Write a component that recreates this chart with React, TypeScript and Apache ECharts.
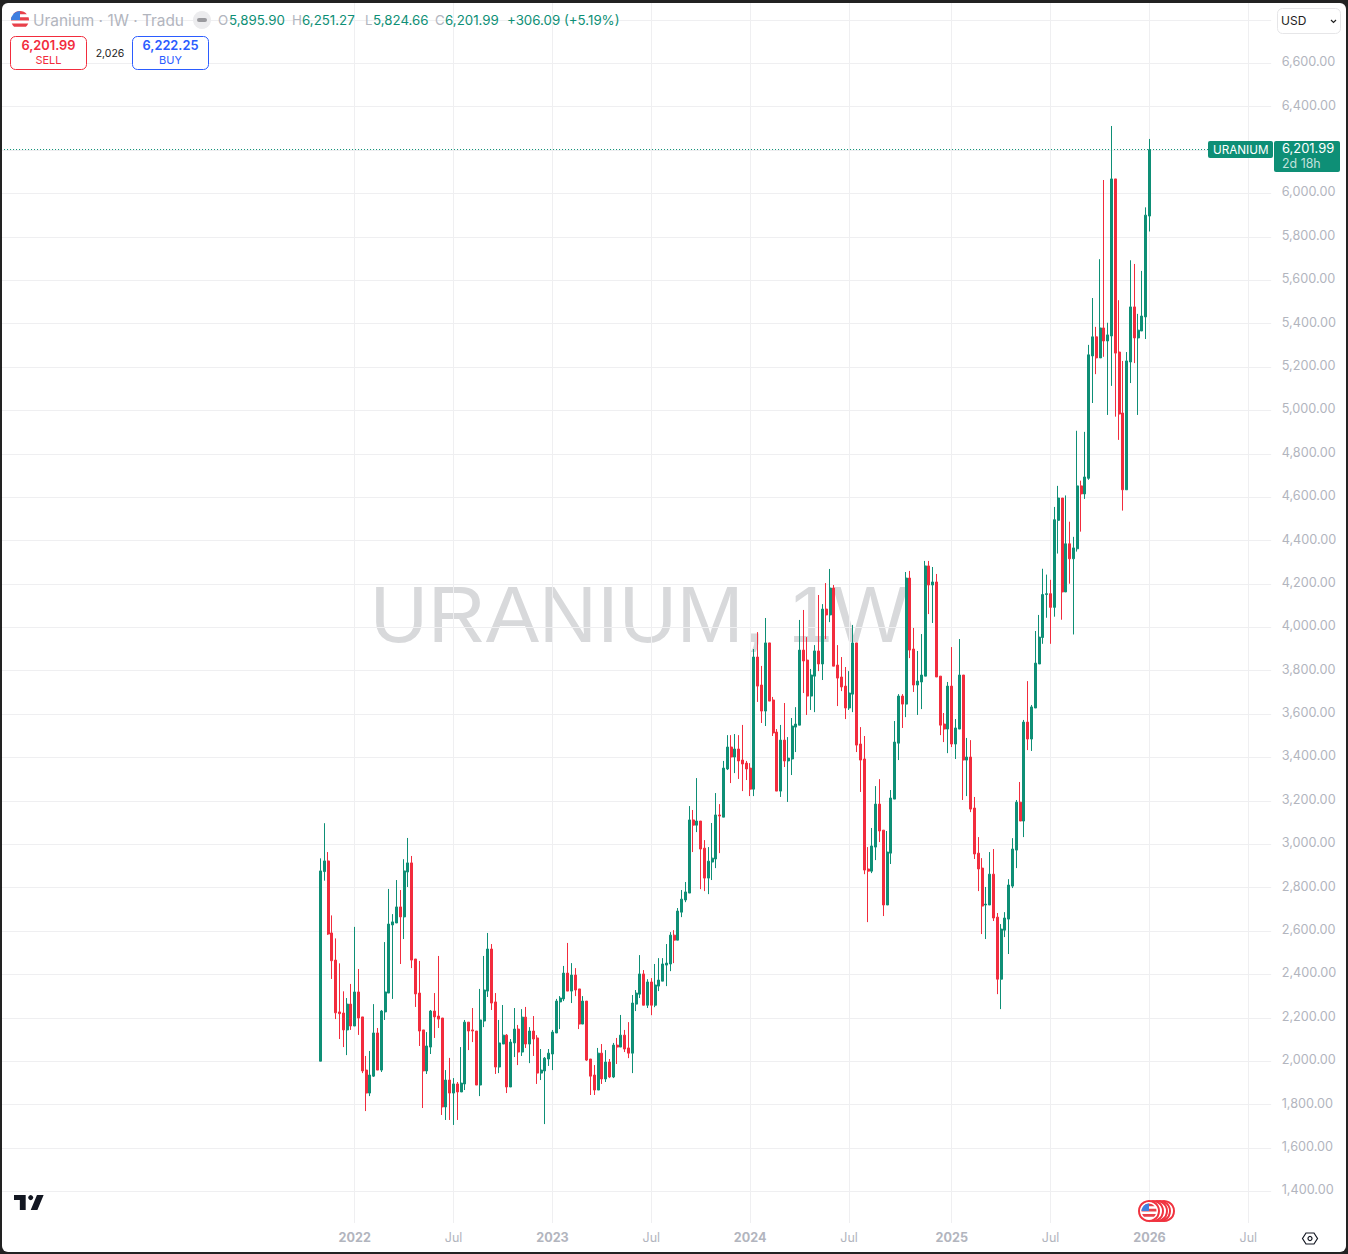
import React, { useEffect, useRef } from "react";
import * as echarts from "echarts";

const opens = [
2000,2874,2923,2591,2466,2227,2222,2144,2263,2162,
2319,2204,1959,1853,1931,2130,1959,2227,2314,2628,
2637,2711,2665,2872,2914,2471,2314,2144,1955,2065,
2231,2208,2199,1789,1913,1853,1895,1858,1895,2180,
2144,2139,1890,2185,2323,2517,2273,1973,2079,2120,
1881,2084,2148,2042,2203,2079,2139,2107,1945,1955,
2010,2033,2130,2273,2287,2406,2323,2397,2333,2171,
2277,2010,1936,1867,2037,1918,1996,1927,2074,2065,
2120,2061,2037,2263,2309,2402,2258,2365,2258,2346,
2369,2443,2448,2581,2558,2687,2743,2775,3112,3088,
3107,2982,2844,2918,2932,3135,3125,3347,3448,3402,
3439,3388,3374,3351,3254,3863,3734,3614,3928,3665,
3517,3245,3480,3384,3393,3540,3549,3895,3849,3683,
3775,3891,3831,4084,4057,4181,3826,3771,3729,3628,
3692,3928,3462,3393,2886,2876,2987,3185,3065,2720,
2959,3208,3466,3683,3646,4227,3900,3734,3748,3775,
4283,4195,4209,3775,3554,3531,3729,3462,3531,3780,
3388,3402,3167,2959,2890,2720,2720,2862,2664,2378,
2604,2655,2807,2973,3194,3107,3563,3485,3628,3831,
3953,4151,4155,4092,4493,4596,4163,4385,4316,4362,
4652,4615,4687,5251,5339,5242,5380,5320,5343,6067,
5269,4988,4634,5223,5477,5334,5366,5431,5895.9];

const closes = [
2877,2923,2586,2463,2223,2219,2144,2263,2162,2319,
2199,1955,1853,1936,2130,1959,2231,2319,2632,2642,
2711,2665,2877,2914,2466,2310,2139,1955,2070,2231,
2204,2194,1789,1913,1853,1895,1858,1899,2180,2139,
2139,1890,2190,2328,2517,2268,1973,2084,2120,1881,
2088,2148,2042,2203,2079,2139,2102,1945,1959,2014,
2037,2134,2277,2291,2406,2323,2397,2328,2171,2277,
2005,1931,1867,2037,1918,1996,1927,2074,2065,2120,
2056,2037,2268,2314,2402,2258,2365,2258,2351,2374,
2448,2452,2581,2558,2692,2747,2780,3112,3088,3107,
2978,2844,2922,2936,3135,3130,3351,3448,3402,3439,
3384,3370,3347,3254,3863,3729,3614,3928,3660,3513,
3245,3480,3384,3397,3545,3554,3895,3845,3683,3780,
3891,3831,4084,4057,4181,3821,3766,3725,3628,3697,
3928,3457,3388,2881,2876,2992,3185,3061,2720,2964,
3213,3471,3683,3646,4227,3895,3734,3752,3780,4283,
4195,4209,3771,3549,3531,3729,3462,3536,3780,3388,
3402,3162,2955,2886,2715,2724,2862,2660,2378,2609,
2660,2812,2978,3194,3107,3563,3485,3633,3835,3955,
4151,4155,4092,4496,4596,4163,4385,4316,4366,4652,
4615,4693,5256,5339,5242,5380,5320,5348,6067,5264,
4983,4634,5228,5477,5334,5370,5435,5900,6201.99];

const highs = [
2935,3097,2964,2672,2566,2451,2322,2291,2356,2619,
2425,2204,2024,2047,2263,2153,2236,2549,2794,2678,
2835,2789,2931,3029,2946,2471,2462,2144,2134,2236,
2314,2485,2199,1959,2015,1922,1904,2065,2190,2180,
2245,2139,2333,2485,2591,2540,2314,2190,2259,2125,
2102,2245,2167,2240,2250,2157,2208,2120,2056,2019,
2056,2144,2287,2300,2439,2545,2452,2429,2333,2300,
2277,2010,1982,2061,2079,2051,2010,2084,2107,2213,
2144,2180,2305,2328,2489,2420,2378,2383,2448,2475,
2475,2540,2595,2604,2706,2789,2826,3176,3158,3305,
3107,3019,2987,3098,3236,3185,3384,3503,3503,3508,
3503,3550,3384,3374,3900,3978,3822,4043,3928,3679,
3531,3550,3651,3494,3582,3632,4034,4080,3955,3808,
3918,4149,4107,4204,4269,4195,3918,3863,3817,3798,
4011,3928,3540,3499,2987,3075,3268,3300,3065,3061,
3250,3568,3692,3692,4255,4260,3997,3891,3969,4306,
4306,4278,4246,3775,3605,3748,3909,3577,3946,3780,
3490,3480,3218,3033,2936,2803,2964,2978,2683,2632,
2687,2839,3028,3204,3287,3573,3752,3642,3983,4057,
4270,4243,4219,4555,4652,4596,4608,4487,4417,4906,
4676,4901,5302,5518,5385,5697,6062,5404,6311,6067,
5508,5228,5269,5692,5675,5445,5643,5936,6251.27];

const lows = [
2000,2832,2582,2379,2194,2102,2065,2028,2144,2162,
2121,1945,1770,1839,1927,1959,1950,2190,2314,2287,
2637,2448,2563,2803,2429,2250,2070,1784,1941,2033,
2107,2153,1752,1729,1729,1706,1729,1858,1867,2051,
2088,1890,1839,2157,2296,2236,1941,1945,2079,1853,
1881,2019,1982,2024,2061,1991,2024,1895,1913,1710,
1978,1959,2130,2148,2277,2323,2268,2300,2148,2171,
2001,1844,1844,1867,1895,1904,1922,1922,1987,2065,
2042,2014,1945,2231,2291,2258,2245,2212,2249,2323,
2369,2346,2415,2452,2558,2664,2733,2775,2964,3056,
2793,2784,2770,2835,2890,2959,3125,3342,3282,3328,
3301,3245,3296,3222,3222,3656,3559,3545,3660,3499,
3245,3218,3356,3195,3319,3425,3549,3697,3596,3619,
3609,3798,3757,3946,4024,3821,3637,3706,3577,3619,
3609,3425,3241,2862,2641,2867,2927,3010,2669,2720,
2909,3208,3388,3536,3586,3858,3702,3596,3623,3775,
4061,4020,3771,3503,3471,3420,3448,3393,3531,3204,
3222,3148,2932,2784,2586,2563,2720,2646,2309,2240,
2572,2494,2798,2890,3107,3033,3434,3430,3628,3831,
3924,4044,3924,4049,4340,4035,4163,4201,3967,4349,
4441,4592,4680,5034,5167,5242,5247,4979,5113,4971,
4864,4538,4634,5126,5218,4979,5366,5329,5824.66];

const axisStartMonday = "2020-03-16";
const firstCandleMonday = "2021-10-25";
const weekCount = 335;
const xTickDates = ["2021-12-27","2022-06-27","2022-12-26","2023-06-26","2023-12-25","2024-06-24","2024-12-30","2025-06-30","2025-12-29","2026-06-29"];
const xTickLabels = ["2022","Jul","2023","Jul","2024","Jul","2025","Jul","2026","Jul"];
const yGridValues = [1400,1600,1800,2000,2200,2400,2600,2800,3000,3200,3400,3600,3800,4000,4200,4400,4600,4800,5000,5200,5400,5600,5800,6000,6200,6400,6600,6800];
const yLabelValues = yGridValues.slice(0, -1);
const lastPrice = 6201.99;

const GREEN = "#0e8f76";
const RED = "#f22c3d";
const BLUE = "#2b5cff";
const GREY = "#b2b5be";
const GRID = "#efeff1";
const FONT = "Inter, 'Noto Sans', sans-serif";

const weekMs = 7 * 24 * 3600 * 1000;
const t0 = Date.parse(axisStartMonday + "T00:00:00Z");
const categories: string[] = [];
for (let i = 0; i < weekCount; i++) categories.push(new Date(t0 + i * weekMs).toISOString().slice(0, 10));
const firstIndex = categories.indexOf(firstCandleMonday);
const candleData = categories.map((_, i) => {
  const k = i - firstIndex;
  return k >= 0 && k < opens.length ? [opens[k], closes[k], lows[k], highs[k]] : ["-", "-", "-", "-"];
});

echarts.graphic.registerShape("flagRed", echarts.graphic.extendPath(
  "M10 0A10 10 0 0 0 2.4 3.5L17.6 3.5A10 10 0 0 0 10 0ZM.46 7A10 10 0 0 0 .01 10.5L19.99 10.5A10 10 0 0 0 19.54 7ZM.83 14A10 10 0 0 0 3.39 17.5L16.61 17.5A10 10 0 0 0 19.17 14Z", {}));
echarts.graphic.registerShape("flagBlue", echarts.graphic.extendPath("M10 0L10 10L0 10A10 10 0 0 1 10 0Z", {}));
echarts.graphic.registerShape("tvLogo", echarts.graphic.extendPath(
  "M14 6H0v6h7v12h7V6ZM28 24h-8l7.5-18h8L28 24Z", {}));

function txt(text: string, x: number, y: number, size: number, fill: string, extra: any = {}) {
  return {
    type: "text", silent: true, z: 20,
    style: { text, x, y, fill, fontSize: size, fontFamily: FONT, textVerticalAlign: "middle", textAlign: "left", ...extra },
  };
}
function flag(cx: number, cy: number, r: number, z = 20) {
  const s = r / 10;
  return [
    { type: "circle", silent: true, z, shape: { cx, cy, r }, style: { fill: "#ffffff" } },
    { type: "flagRed", silent: true, z: z + 1, x: cx - r, y: cy - r, scaleX: s, scaleY: s, style: { fill: "#e8404a" } },
    { type: "flagBlue", silent: true, z: z + 2, x: cx - r, y: cy - r, scaleX: s, scaleY: s, style: { fill: "#3f7fe0" } },
  ];
}

function graphics() {
  const out: any[] = [];
  // watermark
  out.push({
    type: "text", silent: true, z: 0,
    style: { text: "URANIUM, 1W", x: 639, y: 614, fill: "#d8d9db", fontSize: 80, fontFamily: "'Liberation Sans', Arial, sans-serif", textAlign: "center", textVerticalAlign: "middle" },
  });
  // header
  out.push(...flag(20, 20, 9));
  out.push(txt("Uranium · 1W · Tradu", 33, 20, 15.4, GREY));
  out.push({ type: "circle", silent: true, z: 20, shape: { cx: 202, cy: 20, r: 9 }, style: { fill: "#ececee" } });
  out.push({ type: "rect", silent: true, z: 21, shape: { x: 197, y: 18, width: 10, height: 4, r: 2 }, style: { fill: "#9a9a9e" } });
  const row = 20;
  const fs = 13.3;
  out.push(txt("O", 218, row, fs, GREY), txt("5,895.90", 229, row, fs, GREEN));
  out.push(txt("H", 292, row, fs, GREY), txt("6,251.27", 302, row, fs, GREEN));
  out.push(txt("L", 365, row, fs, GREY), txt("5,824.66", 373, row, fs, GREEN));
  out.push(txt("C", 435, row, fs, GREY), txt("6,201.99", 445, row, fs, GREEN));
  out.push(txt("+306.09 (+5.19%)", 507, row, fs, GREEN));
  // sell / buy
  out.push({ type: "rect", silent: true, z: 20, shape: { x: 10.5, y: 36.5, width: 76, height: 33, r: 5 }, style: { fill: "#fff", stroke: RED, lineWidth: 1 } });
  out.push(txt("6,201.99", 48.5, 45, 12.8, RED, { textAlign: "center", fontWeight: 600 }));
  out.push(txt("SELL", 48.5, 60, 11, RED, { textAlign: "center" }));
  out.push(txt("2,026", 110, 53, 10.5, "#222222", { textAlign: "center" }));
  out.push({ type: "rect", silent: true, z: 20, shape: { x: 132.5, y: 36.5, width: 76, height: 33, r: 5 }, style: { fill: "#fff", stroke: BLUE, lineWidth: 1 } });
  out.push(txt("6,222.25", 170.5, 45, 12.8, BLUE, { textAlign: "center", fontWeight: 600 }));
  out.push(txt("BUY", 170.5, 60, 11, BLUE, { textAlign: "center" }));
  // USD selector
  out.push({ type: "rect", silent: true, z: 20, shape: { x: 1277.5, y: 8.5, width: 63, height: 25, r: 5 }, style: { fill: "#fff", stroke: "#e6e6e8", lineWidth: 1 } });
  out.push(txt("USD", 1281, 20.5, 12, "#222222"));
  out.push({ type: "polyline", silent: true, z: 21, shape: { points: [[1331, 20], [1333.5, 22.5], [1336, 20]] }, style: { stroke: "#222222", lineWidth: 1.2, fill: "none" } });
  // last price tags
  out.push({ type: "rect", silent: true, z: 20, shape: { x: 1208, y: 141, width: 65, height: 17, r: 2 }, style: { fill: GREEN } });
  out.push(txt("URANIUM", 1213, 149.5, 11.7, "#ffffff"));
  out.push({ type: "rect", silent: true, z: 20, shape: { x: 1274, y: 141, width: 66, height: 31, r: 2 }, style: { fill: GREEN } });
  out.push(txt("6,201.99", 1282, 148.5, 12.9, "#ffffff"));
  out.push(txt("2d 18h", 1282, 163.5, 12.4, "rgba(255,255,255,0.75)"));
  // logo
  out.push({ type: "tvLogo", silent: true, z: 20, x: 14, y: 1190, scaleX: 0.835, scaleY: 0.835, style: { fill: "#131722" } });
  out.push({ type: "circle", silent: true, z: 20, shape: { cx: 30.7, cy: 1197.6, r: 2.5 }, style: { fill: "#131722" } });
  // event flags
  [1164, 1160, 1157, 1153, 1149].forEach((cx, i) => {
    out.push({ type: "circle", silent: true, z: 20 + i, shape: { cx, cy: 1211, r: 10 }, style: { fill: "#fff", stroke: "#f0333f", lineWidth: 2 } });
  });
  out.push(...flag(1149, 1211, 7.5, 30));
  // settings icon
  out.push({ type: "polygon", silent: true, z: 20, shape: { points: [[1302.5, 1238.5], [1306, 1233], [1314, 1233], [1317.5, 1238.5], [1314, 1244], [1306, 1244]] }, style: { fill: "#fff", stroke: "#131722", lineWidth: 1.2 } });
  out.push({ type: "circle", silent: true, z: 21, shape: { cx: 1310, cy: 1238.5, r: 2 }, style: { fill: "#fff", stroke: "#131722", lineWidth: 1.2 } });
  return out;
}

export default function App() {
  const ref = useRef<HTMLDivElement>(null);
  useEffect(() => {
    document.body.style.margin = "0";
    const chart = echarts.init(ref.current!, undefined, { renderer: "svg" });
    const isTick = (_i: number, v: string) => xTickDates.includes(v);
    chart.setOption({
      animation: false,
      backgroundColor: "#ffffff",
      grid: { left: 1.06, top: 3, width: 334 * 3.8027, height: 1220, containLabel: false },
      xAxis: {
        type: "category",
        data: categories,
        boundaryGap: false,
        axisLine: { show: false },
        axisTick: { show: false },
        splitLine: { show: true, interval: isTick, lineStyle: { color: GRID, width: 1 } },
        axisLabel: {
          interval: isTick,
          margin: 8,
          color: GREY,
          fontFamily: FONT,
          fontSize: 12.5,
          formatter: (v: string) => {
            const l = xTickLabels[xTickDates.indexOf(v)];
            return l === "Jul" ? l : `{b|${l}}`;
          },
          rich: { b: { fontWeight: 700, fontSize: 12.6, color: GREY, fontFamily: FONT } },
        },
      },
      yAxis: {
        type: "value",
        position: "right",
        min: 1254,
        max: 6878,
        scale: true,
        axisLine: { show: false },
        axisTick: { show: false, customValues: yGridValues },
        splitLine: { show: true, lineStyle: { color: GRID, width: 1 } },
        axisLabel: {
          customValues: yLabelValues,
          margin: 10.5,
          align: "left",
          verticalAlign: "bottom",
          lineHeight: 3,
          color: GREY,
          fontFamily: FONT,
          fontSize: 12.7,
          formatter: (v: number) => v.toLocaleString("en-US", { minimumFractionDigits: 2, maximumFractionDigits: 2 }),
        },
      },
      series: [{
        type: "candlestick",
        data: candleData,
        barWidth: 2.5,
        silent: true,
        z: 5,
        itemStyle: { color: GREEN, color0: RED, borderColor: GREEN, borderColor0: RED, borderWidth: 1 },
        markLine: {
          silent: true,
          symbol: "none",
          label: { show: false },
          lineStyle: { color: GREEN, type: [1, 2], width: 1 },
          data: [{ yAxis: lastPrice }],
        },
      }],
      graphic: { elements: graphics() },
    });
    return () => chart.dispose();
  }, []);
  return (
    <div style={{ position: "absolute", left: 0, top: 0, width: 1348, height: 1254, overflow: "hidden", background: "#fff" }}>
      <div ref={ref} style={{ position: "absolute", left: 0, top: 0, width: 1348, height: 1254 }} />
      <div style={{ position: "absolute", left: 2, top: 3, width: 1344, height: 1249, borderRadius: 6, boxShadow: "0 0 0 8px #222222", pointerEvents: "none" }} />
    </div>
  );
}
